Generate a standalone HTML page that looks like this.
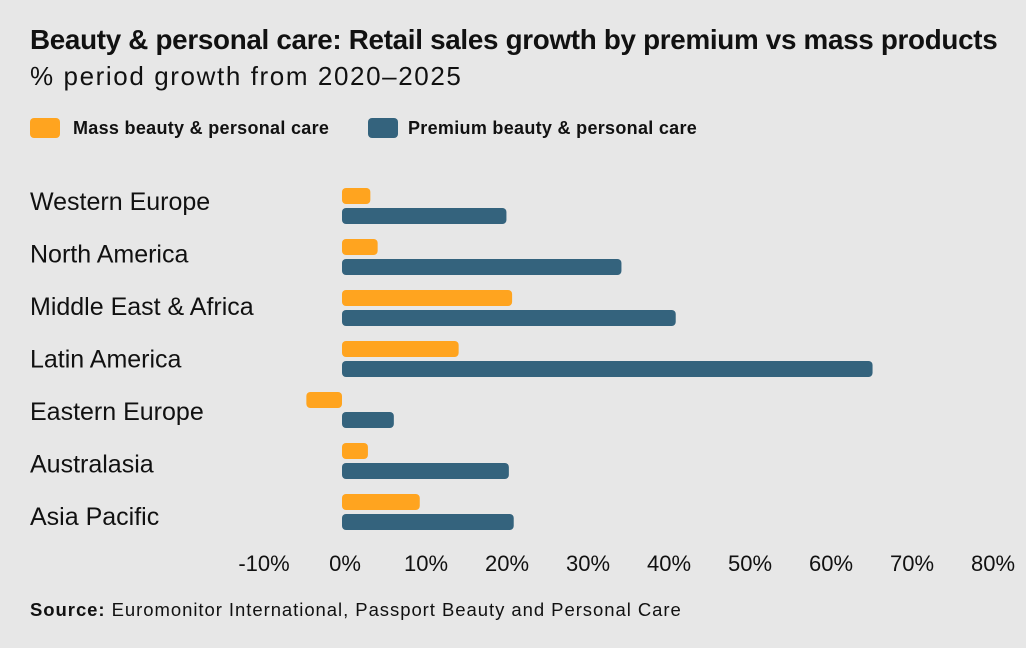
<!DOCTYPE html>
<html><head><meta charset="utf-8"><style>
body{margin:0;width:1026px;height:648px;background:#e7e7e7;font-family:"Liberation Sans",sans-serif;overflow:hidden;position:relative;color:#111}
.t{position:absolute;white-space:nowrap}
</style></head><body>
<div class="t" style="left:30px;top:24px;font-size:27.8px;font-weight:bold;letter-spacing:-0.3px">Beauty &amp; personal care: Retail sales growth by premium vs mass products</div>
<div class="t" style="left:30px;top:61px;font-size:26px;letter-spacing:1.6px">% period growth from 2020–2025</div>
<div style="position:absolute;left:30px;top:118px;width:30px;height:20px;background:#ffa41f;border-radius:4px"></div>
<div class="t" style="left:73px;top:118px;font-size:18px;font-weight:bold;letter-spacing:0.3px">Mass beauty &amp; personal care</div>
<div style="position:absolute;left:368px;top:118px;width:30px;height:20px;background:#34637d;border-radius:4px"></div>
<div class="t" style="left:408px;top:118px;font-size:18px;font-weight:bold;letter-spacing:0.3px">Premium beauty &amp; personal care</div>
<svg id="chart" width="1026" height="648" style="position:absolute;left:0;top:0"></svg>
<div class="t" style="left:30px;top:599px;font-size:18.5px;letter-spacing:0.95px"><b>Source:</b> Euromonitor International, Passport Beauty and Personal Care</div>
<script>
const categories=["Western Europe","North America","Middle East & Africa","Latin America","Eastern Europe","Australasia","Asia Pacific"];
const massValues=[3.5,4.4,21,14.4,-4.4,3.2,9.6];
const premiumValues=[20.3,34.5,41.2,65.5,6.4,20.6,21.2];
const tickValues=[-10,0,10,20,30,40,50,60,70,80];
const tickLabels=["-10%","0%","10%","20%","30%","40%","50%","60%","70%","80%"];
const svg=document.getElementById('chart');
const NS='http://www.w3.org/2000/svg';
const x=v=>342+v*8.1;
const rowY=i=>188+i*51;
function bar(v,y,color,name){
  const r=document.createElementNS(NS,'rect');
  const a=Math.min(x(0),x(v)),b=Math.max(x(0),x(v));
  r.setAttribute('x',a);r.setAttribute('y',y);r.setAttribute('width',b-a);r.setAttribute('height',16);
  r.setAttribute('rx',4);r.setAttribute('fill',color);
  
  
  svg.appendChild(r);
}
categories.forEach((c,i)=>{
  const t=document.createElementNS(NS,'text');
  t.setAttribute('x',30);t.setAttribute('y',210+i*52.5);
  t.setAttribute('font-size','25');t.setAttribute('fill','#111');
  t.setAttribute('font-family','Liberation Sans, sans-serif');
  t.textContent=c;
  
  
  svg.appendChild(t);
  bar(massValues[i],rowY(i),'#ffa41f','bar-mass');
  bar(premiumValues[i],rowY(i)+20,'#34637d','bar-premium');
});
tickValues.forEach((v,i)=>{
  const t=document.createElementNS(NS,'text');
  t.setAttribute('x',x(v)+3);t.setAttribute('y',571);
  t.setAttribute('text-anchor','middle');
  t.setAttribute('font-size','22');t.setAttribute('fill','#111');
  t.setAttribute('font-family','Liberation Sans, sans-serif');
  t.textContent=tickLabels[i];
  
  
  svg.appendChild(t);
});
</script>
</body></html>
